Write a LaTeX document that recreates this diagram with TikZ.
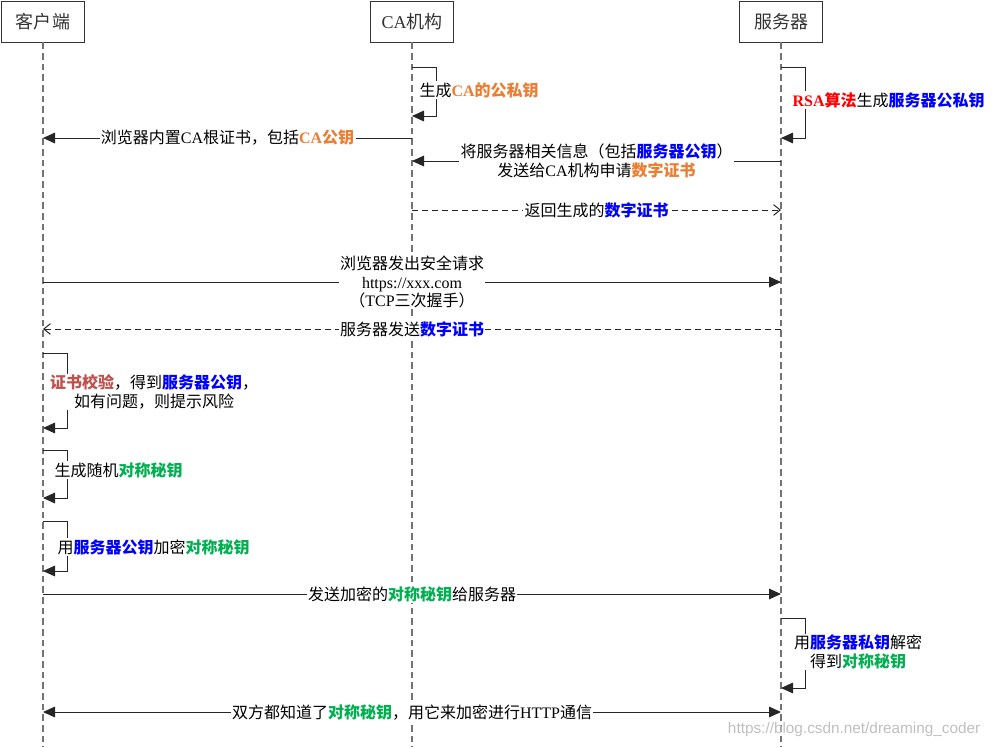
\documentclass[tikz,border=0pt]{standalone}
\usepackage{fontspec}
\setmainfont{Noto Sans CJK SC}
\newfontfamily\lat{Liberation Serif}
\newfontfamily\wmfont{Liberation Sans}
\usepackage{tikz}
\definecolor{caorange}{RGB}{237,125,49}
\definecolor{keygreen}{RGB}{0,176,80}
\definecolor{certred}{RGB}{192,80,77}
\newcommand{\og}[1]{\textcolor{caorange}{\bfseries #1}}
\newcommand{\bl}[1]{\textcolor{blue}{\bfseries #1}}
\newcommand{\gr}[1]{\textcolor{keygreen}{\bfseries #1}}
\newcommand{\rd}[1]{\textcolor{red}{\bfseries #1}}
\newcommand{\crd}[1]{\textcolor{certred}{\bfseries #1}}
\usetikzlibrary{arrows.meta}

\begin{document}
\begin{tikzpicture}[x=0.75pt, y=-0.75pt,
		>={Triangle[length=9pt,width=8pt]},   %Pfeilspitzen
		actor/.style={draw=black!80, fill=white, minimum width=62pt, minimum height=31pt, inner sep=0pt, text=black!80, font=\fontsize{13.5}{16}\selectfont},
		life/.style={draw=black!55, line width=0.9pt, dash pattern=on 5pt off 3pt},
		msg/.style={draw=black!85, line width=0.75pt},
		reply/.style={msg, dash pattern=on 4.5pt off 3pt, -{Straight Barb[length=5pt,width=8pt]}},
		lbl/.style={fill=white, inner sep=1pt, align=center, font=\fontsize{12}{13.8}\selectfont},
		note/.style={lbl, anchor=west}]
		\useasboundingbox (0,0) rectangle (995,747);
		%Teilnehmer
		\node[actor] (client) at (43,21.5) {客户端};
		\node[actor] (ca) at (412,21.5) {{\lat CA}机构};
		\node[actor] (server) at (781,21.5) {服务器};
		%Lebenslinien
		\foreach \who in {client,ca,server}
			\draw[life] (\who.south) -- (\who |- 0,747);
		%Selbstaufrufe
		\foreach \who/\ya/\yb in {ca/67/116, server/67/138, client/353/428, client/450/498, client/521/571, server/618/688}
			\draw[msg,->] (\who |- 0,\ya) -- ++(24,0) |- (\who |- 0,\yb);
		\node[note] (capair) at (418,90) {生成\og{{\lat CA}的公私钥}};
		\node[note] (srvpair) at (791,100) {\rd{{\lat RSA}算法}生成\bl{服务器公私钥}};
		\node[lbl] (check) at (154,392) {\crd{证书校验}，得到\bl{服务器公钥}，\\如有问题，则提示风险};
		\node[note] (genkey) at (53,470) {生成随机\gr{对称秘钥}};
		\node[note] (enckey) at (56,547) {用\bl{服务器公钥}加密\gr{对称秘钥}};
		\node[lbl] (deckey) at (858,652) {用\bl{服务器私钥}解密\\得到\gr{对称秘钥}};
		%Nachrichten
		\draw[msg,->] (ca |- 0,138) -- node[lbl] {浏览器内置{\lat CA}根证书，包括\og{{\lat CA}公钥}} (client |- 0,138);
		\draw[msg,->] (server |- 0,161) -- node[lbl] {将服务器相关信息（包括\bl{服务器公钥}）\\发送给{\lat CA}机构申请\og{数字证书}} (ca |- 0,161);
		\draw[reply] (ca |- 0,210) -- node[lbl] {返回生成的\bl{数字证书}} (server |- 0,210);
		\draw[msg,->] (client |- 0,282) -- node[lbl] {浏览器发出安全请求\\{\lat https://xxx.com}\\（{\lat TCP}三次握手）} (server |- 0,282);
		\draw[reply] (server |- 0,329) -- node[lbl] {服务器发送\bl{数字证书}} (client |- 0,329);
		\draw[msg,->] (client |- 0,594) -- node[lbl] {发送加密的\gr{对称秘钥}给服务器} (server |- 0,594);
		\draw[msg,<->] (client |- 0,712) -- node[lbl] {双方都知道了\gr{对称秘钥}，用它来加密进行{\lat HTTP}通信} (server |- 0,712);
		%Wasserzeichen
		\node[anchor=east, text=black!25, font=\wmfont\fontsize{11.5}{13}\selectfont] (mark) at (985,730) {https://blog.csdn.net/dreaming\_coder};
	\end{tikzpicture}
\end{document}
